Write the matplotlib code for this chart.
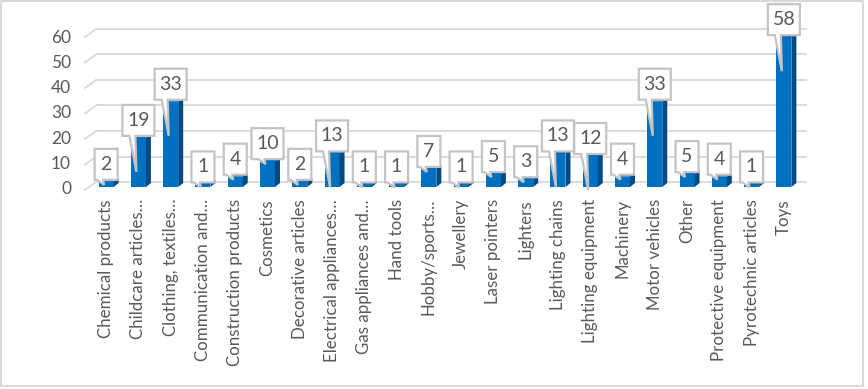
import matplotlib
matplotlib.use("Agg")
import matplotlib.pyplot as plt
from matplotlib.patches import Polygon, Rectangle

categories = ["Chemical products", "Childcare articles…", "Clothing, textiles…",
              "Communication and…", "Construction products", "Cosmetics",
              "Decorative articles", "Electrical appliances…", "Gas appliances and…",
              "Hand tools", "Hobby/sports…", "Jewellery", "Laser pointers", "Lighters",
              "Lighting chains", "Lighting equipment", "Machinery", "Motor vehicles",
              "Other", "Protective equipment", "Pyrotechnic articles", "Toys"]
values = [2, 19, 33, 1, 4, 10, 2, 13, 1, 1, 7, 1, 5, 3, 13, 12, 4, 33, 5, 4, 1, 58]
y_ticks = [0, 10, 20, 30, 40, 50, 60]

plt.rcParams['font.family'] = ['Lato', 'DejaVu Sans']
TXT = '#595959'
GRID = '#D9D9D9'

W, H = 868, 389
fig = plt.figure(figsize=(W / 100, H / 100), dpi=100)
AX_L, AX_R, AX_B, AX_T = 90, 800, 187, 32   # pixel geometry (from top-left)
ax = fig.add_axes([AX_L / W, (H - AX_B) / H, (AX_R - AX_L) / W, (AX_B - AX_T) / H])
n = len(categories)
ax.set_xlim(-0.5, n - 0.5)
ax.set_ylim(0, 60)
ax.axis('off')

ppx = (AX_R - AX_L) / n        # pixels per x unit
ppy = (AX_B - AX_T) / 60.0     # pixels per y unit


def X(px):
    return -0.5 + (px - AX_L) / ppx


def Y(py):
    return (AX_B - py) / ppy


# back-wall gridlines with perspective slant on the left
for t in y_ticks:
    yb = Y(182) + t * (153 / 60) / ppy
    ax.plot([X(96), X(807)], [yb, yb], color=GRID, lw=1.3, zorder=1,
            clip_on=False, solid_capstyle='butt')
    ax.plot([X(85), X(96)], [yb - 8 / ppy, yb], color=GRID, lw=1.3, zorder=1,
            clip_on=False)
    # y tick labels
    ax.text(X(71), Y(189) + t * 2.52 / ppy, str(t), ha='right', va='center',
            fontsize=12.5, color=TXT, clip_on=False)

# 3-D style bars
w = 15 / ppx
ddx, ddy = 5 / ppx, 4 / ppy
for i, v in enumerate(values):
    l, r = i - w / 2, i + w / 2
    ax.add_patch(Rectangle((l, 0), w, v, facecolor='#0070C0', edgecolor='none', zorder=3))
    ax.add_patch(Polygon([(r, 0), (r + ddx, ddy), (r + ddx, v + ddy), (r, v)],
                         closed=True, facecolor='#004A86', edgecolor='none', zorder=3))
    ax.add_patch(Polygon([(l, v), (l + ddx, v + ddy), (r + ddx, v + ddy), (r, v)],
                         closed=True, facecolor='#0062AC', edgecolor='none', zorder=3))

# callout data labels
for i, v in enumerate(values):
    s = str(v)
    bw = 32 if len(s) > 1 else 23
    bh = 31
    cx_px = AX_L + (i + 0.5) * ppx
    top_px = AX_B - v * ppy
    bot = top_px - 2
    depth = 34 if v >= 12 else 3
    tip = top_px + depth
    pts_px = [(cx_px - bw / 2, bot), (cx_px - 9, bot), (cx_px - 2, tip), (cx_px - 3, bot),
              (cx_px + bw / 2, bot), (cx_px + bw / 2, bot - bh), (cx_px - bw / 2, bot - bh)]
    pts = [(X(px), Y(py)) for px, py in pts_px]
    ax.add_patch(Polygon(pts, closed=True, facecolor='white', edgecolor='#C4C4C4',
                         lw=1.6, zorder=5, clip_on=False, joinstyle='miter'))
    ax.text(i, Y(bot - bh / 2), s, ha='center', va='center', fontsize=14,
            color=TXT, zorder=6, clip_on=False)

# category labels
for i, c in enumerate(categories):
    ax.text(i, Y(199), c, rotation=90, ha='center', va='top', fontsize=12.2,
            color=TXT, clip_on=False)

# chart border
fig.patches.append(Rectangle((1 / W, 3 / H), 862 / W, 385 / H, transform=fig.transFigure,
                             fill=False, edgecolor=GRID, lw=1.5))

fig.savefig('out.png', dpi=100, facecolor='white')
